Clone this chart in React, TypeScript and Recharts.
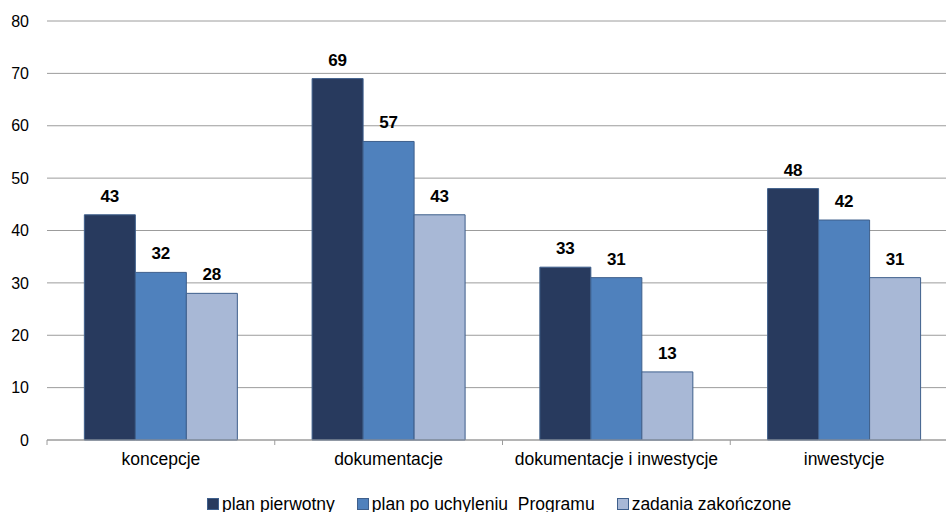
import React from 'react';
import {
  BarChart,
  Bar,
  XAxis,
  YAxis,
  CartesianGrid,
  Legend,
  LabelList,
} from 'recharts';

const CATEGORIES = ['koncepcje', 'dokumentacje', 'dokumentacje i inwestycje', 'inwestycje'];
const PLAN_PIERWOTNY = [43, 69, 33, 48];
const PLAN_PO_UCHYLENIU = [32, 57, 31, 42];
const ZADANIA_ZAKONCZONE = [28, 43, 13, 31];
const Y_TICKS = [0, 10, 20, 30, 40, 50, 60, 70, 80];

const SERIES = [
  { key: 'pierwotny', name: 'plan pierwotny', color: '#283A5E', values: PLAN_PIERWOTNY },
  { key: 'uchylenie', name: 'plan po uchyleniu  Programu', color: '#4F81BD', values: PLAN_PO_UCHYLENIU },
  { key: 'zakonczone', name: 'zadania zakończone', color: '#A8B8D6', values: ZADANIA_ZAKONCZONE },
];

const data = CATEGORIES.map((name, i) => {
  const row: Record<string, string | number> = { name };
  SERIES.forEach((s) => {
    row[s.key] = s.values[i];
  });
  return row;
});

const FONT = '"Liberation Sans", Arial, sans-serif';
const OUTLINE = '#3E5F8C';
const GRID = '#9C9C9C';

// Excel-like category tick: label centred, small tick mark at the left band edge
const CategoryTick = (props: any) => {
  const { x, y, payload } = props;
  const half = payload?.offset ?? 0;
  return (
    <g>
      <line x1={x - half} x2={x - half} y1={y} y2={y + 5} stroke={GRID} strokeWidth={1} />
      <text x={x} y={y + 25} textAnchor="middle" fontSize={17.5} fill="#000">
        {payload.value}
      </text>
    </g>
  );
};

const LegendContent = () => (
  <div
    style={{
      display: 'flex',
      alignItems: 'center',
      height: 40,
      paddingLeft: 207,
      fontSize: 17.5,
      color: '#000',
      whiteSpace: 'pre',
    }}
  >
    {SERIES.map((s) => (
      <div key={s.key} style={{ display: 'flex', alignItems: 'center', marginRight: 22 }}>
        <span
          style={{
            display: 'inline-block',
            width: 10,
            height: 10,
            background: s.color,
            border: `1px solid ${OUTLINE}`,
            marginRight: 3,
          }}
        />
        <span>{s.name}</span>
      </div>
    ))}
  </div>
);

export default function App() {
  return (
    <div
      style={{
        position: 'fixed',
        left: 0,
        top: 0,
        width: 946,
        height: 512,
        overflow: 'hidden',
        background: '#fff',
        fontFamily: FONT,
      }}
    >
      <BarChart
        width={970}
        height={524}
        data={data}
        margin={{ top: 21, right: 12, left: 0, bottom: 0 }}
        barCategoryGap="16.4%"
        barGap={0}
      >
        <CartesianGrid vertical={false} stroke={GRID} strokeWidth={1} />
        <XAxis
          dataKey="name"
          height={44}
          tickSize={0}
          tickMargin={0}
          tickLine={false}
          axisLine={{ stroke: GRID, strokeWidth: 1 }}
          tick={<CategoryTick />}
          interval={0}
        />
        <YAxis
          width={47}
          domain={[0, 80]}
          ticks={Y_TICKS}
          interval={0}
          axisLine={false}
          tickLine={false}
          tickSize={0}
          tickMargin={18}
          tick={{ fontSize: 16, fill: '#000' }}
        />
        <Legend
          verticalAlign="bottom"
          content={<LegendContent />}
          wrapperStyle={{ height: 40 }}
        />
        {SERIES.map((s) => (
          <Bar
            key={s.key}
            dataKey={s.key}
            name={s.name}
            fill={s.color}
            stroke={OUTLINE}
            strokeWidth={1}
            isAnimationActive={false}
          >
            <LabelList
              dataKey={s.key}
              position="top"
              offset={13}
              fill="#000"
              fontSize={17}
              fontWeight="bold"
            />
          </Bar>
        ))}
      </BarChart>
    </div>
  );
}
